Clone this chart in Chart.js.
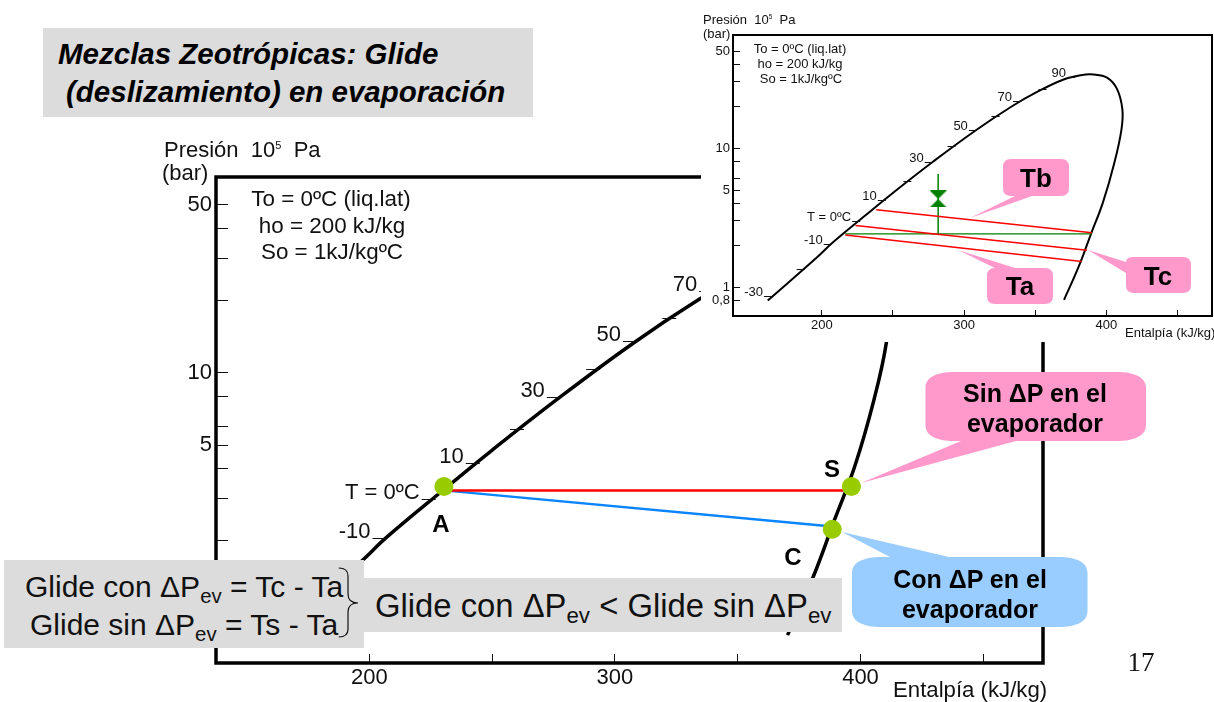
<!DOCTYPE html>
<html>
<head>
<meta charset="utf-8">
<script src="https://cdn.jsdelivr.net/npm/chart.js@4"></script>
<style>
  html, body { margin: 0; padding: 0; background: #fff; }
  body { width: 1214px; height: 702px; position: relative; overflow: hidden; font-family: "Liberation Sans", sans-serif; color: #111; }
  canvas { position: absolute; }
  .box { position: absolute; background: #dcdcdc; }
  .t { position: absolute; white-space: nowrap; transform: translate(-50%, -50%); }
  .l { position: absolute; white-space: nowrap; transform: translateY(-50%); }
  .b { font-weight: bold; color: #000; }
  sub { font-size: 68%; vertical-align: -0.28em; line-height: 0; }
  sup { font-size: 50%; vertical-align: 0.75em; line-height: 0; }
  svg { position: absolute; left: 0; top: 0; }
</style>
</head>
<body>
<canvas id="main" width="1214" height="702" style="left:0;top:0"></canvas>

<!-- text on the big diagram -->
<div class="l" style="left:164px;top:150px;font-size:22px">Presión&nbsp; 10<sup>5</sup>&nbsp; Pa</div>
<div class="l" style="left:162px;top:173px;font-size:22px">(bar)</div>
<div class="t" style="left:331px;top:199px;font-size:22.4px">To = 0ºC (liq.lat)</div>
<div class="t" style="left:332px;top:226px;font-size:22.4px">ho = 200 kJ/kg</div>
<div class="t" style="left:332px;top:252px;font-size:22.4px">So = 1kJ/kgºC</div>
<div class="l" style="left:893px;top:690px;font-size:22.2px">Entalpía (kJ/kg)</div>
<div class="t b" style="left:441px;top:524px;font-size:24px">A</div>
<div class="t b" style="left:832px;top:469px;font-size:24px">S</div>
<div class="t b" style="left:793px;top:557px;font-size:24px">C</div>
<div class="t" style="left:1141px;top:662px;font-size:27px;font-family:'Liberation Serif',serif">17</div>

<!-- grey boxes -->
<div class="box" style="left:43px;top:28px;width:490px;height:89px"></div>
<div class="l b" style="left:58px;top:54px;font-size:29.5px;font-style:italic">Mezclas Zeotrópicas: Glide</div>
<div class="l b" style="left:66px;top:92px;font-size:29.5px;font-style:italic">(deslizamiento) en evaporación</div>
<div class="box" style="left:363px;top:578px;width:479px;height:54px"></div>
<div class="box" style="left:4px;top:560px;width:360px;height:88px"></div>
<div class="l" style="left:25px;top:587px;font-size:30px">Glide con ΔP<sub>ev</sub> = Tc - Ta</div>
<div class="l" style="left:30px;top:625px;font-size:30px">Glide sin ΔP<sub>ev</sub> = Ts - Ta</div>
<div class="l" style="left:375px;top:606px;font-size:32.8px">Glide con ΔP<sub>ev</sub> &lt; Glide sin ΔP<sub>ev</sub></div>

<canvas id="inset" width="513" height="342" style="left:701px;top:0;background:#fff"></canvas>

<!-- text on the small diagram -->
<div class="l" style="left:703px;top:19px;font-size:13px">Presión&nbsp; 10<sup>5</sup>&nbsp; Pa</div>
<div class="l" style="left:703px;top:33px;font-size:13px">(bar)</div>
<div class="t" style="left:800px;top:48px;font-size:13px">To = 0ºC (liq.lat)</div>
<div class="t" style="left:800px;top:63px;font-size:13px">ho = 200 kJ/kg</div>
<div class="t" style="left:801px;top:78px;font-size:13px">So = 1kJ/kgºC</div>
<div class="l" style="left:1125px;top:332px;font-size:13px">Entalpía (kJ/kg)</div>

<!-- callouts and the brace -->
<svg width="1214" height="702">
  <path d="M338.7 568 Q348 568 348 576 L348 594 Q348 603 358 603 Q348 603 348 612 L348 629 Q348 637 338.7 637" fill="none" stroke="#111" stroke-width="1.2"/>
  <path d="M955 372 H1116 C1136 372 1146 378 1146 388 V425 C1146 435 1136 441 1116 441 H1016 L861 483 L961 441 H955 C935 441 925.5 435 925.5 425 V388 C925.5 378 935 372 955 372 Z" fill="#ff99cc"/>
  <path d="M882 557 H890 L842 532 L949 557 H1058 C1078 557 1087.5 563 1087.5 573 V611 C1087.5 621 1078 627 1058 627 H882 C862 627 852 621 852 611 V573 C852 563 862 557 882 557 Z" fill="#99ccff"/>
  <path d="M1011 159 H1061 Q1069 159 1069 167 V188 Q1069 196 1061 196 H1032 L970 218 L1015 196 H1011 Q1003 196 1003 188 V167 Q1003 159 1011 159 Z" fill="#ff99cc"/>
  <path d="M995 268 L958 250 L1015 268 H1045 Q1053 268 1053 276 V296 Q1053 304 1045 304 H995 Q987 304 987 296 V276 Q987 268 995 268 Z" fill="#ff99cc"/>
  <path d="M1134 257 H1183 Q1191 257 1191 265 V285 Q1191 293 1183 293 H1134 Q1126 293 1126 285 V273 L1088 250 L1126 262 Q1126 257 1134 257 Z" fill="#ff99cc"/>
</svg>
<div class="t b" style="left:1035px;top:393px;font-size:25px">Sin ΔP en el</div>
<div class="t b" style="left:1035px;top:423px;font-size:25px">evaporador</div>
<div class="t b" style="left:970px;top:579px;font-size:25px">Con ΔP en el</div>
<div class="t b" style="left:970px;top:609px;font-size:25px">evaporador</div>
<div class="t b" style="left:1036px;top:178px;font-size:26px">Tb</div>
<div class="t b" style="left:1020px;top:286px;font-size:26px">Ta</div>
<div class="t b" style="left:1158px;top:276px;font-size:26px">Tc</div>

<script>
// axes
const xTicks = [200, 250, 300, 350, 400, 450];
const xLabels = [200, 300, 400];
const yTicks = [50, 40, 30, 20, 10, 8, 6, 5, 4, 3, 2, 1, 0.8];
const yLabels = [50, 10, 5, 1];

// saturation dome
const domeH = [162, 196.7, 206.9, 230.3, 250.2, 277.9, 307.6, 334, 351, 370, 382, 391, 400.5, 407.5, 411.3, 410.6, 405.5, 397.6, 389.4, 380.8, 370.3];
const domeP = [0.8, 1.64, 2.06, 3.26, 4.78, 7.95, 13.3, 20.1, 25.3, 31.2, 33.5, 33.9, 32.2, 26.7, 19, 13.5, 7.73, 4.06, 2.44, 1.42, 0.81];

// isotherm marks on the liquid line
const isoLabels = ['-30', '', '-10', 'T = 0ºC', '10', '', '30', '', '50', '', '70', '', '90'];
const isoH = [165, 188, 207, 227, 245, 263, 278, 294, 309, 325, 340, 358, 378];
const isoP = [0.87, 1.36, 2.06, 2.97, 4.22, 5.85, 7.95, 10.4, 13.5, 16.9, 21.8, 26.5, 32.5];

// big diagram: evaporation with and without pressure drop
const redH = [230.4, 393];
const redP = [3.24, 3.24];
const blueH = [230.4, 388.5];
const blueP = [3.24, 2.29];
const stateH = [230.4, 396.3, 388.5];
const stateP = [3.36, 3.36, 2.23];

// small diagram: Tb, Tc, Ta lines and expansion valve
const tbH = [238.3, 389.9];
const tbP = [3.6, 2.46];
const tcH = [223.7, 386.4];
const tcP = [2.78, 1.84];
const taH = [216.5, 382.8];
const taP = [2.37, 1.53];
const flatH = [216.5, 389.9];
const flatP = [2.42, 2.42];
const valveH = [281.8, 281.8];
const valveP = [2.42, 6.53];
const bowH = [281.8];
const bowP = [4.31];

const pts = (xs, ys) => xs.map((x, i) => ({ x: x, y: ys[i] }));
const line = (xs, ys, color, width, tension) => ({
  data: pts(xs, ys), showLine: true, borderColor: color, borderWidth: width,
  pointRadius: 0, tension: tension || 0,
});

// frame round the plot
const framePlugin = {
  id: 'frame',
  afterDraw(chart, args, opts) {
    const a = chart.chartArea, c = chart.ctx;
    c.save();
    c.strokeStyle = '#000';
    c.lineWidth = opts.width;
    c.strokeRect(a.left, a.top, a.right - a.left, a.bottom - a.top);
    c.restore();
  },
};

// small tick and label for each isotherm
const isoPlugin = {
  id: 'iso',
  afterDatasetsDraw(chart, args, opts) {
    const c = chart.ctx;
    c.save();
    c.strokeStyle = '#111';
    c.fillStyle = '#111';
    c.lineWidth = 1;
    c.font = opts.font;
    c.textAlign = 'right';
    c.textBaseline = 'middle';
    isoH.forEach((h, i) => {
      const x = chart.scales.x.getPixelForValue(h);
      const y = Math.round(chart.scales.y.getPixelForValue(isoP[i])) + 0.5;
      c.beginPath();
      c.moveTo(x - opts.len, y);
      c.lineTo(x, y);
      c.stroke();
      c.fillText(isoLabels[i], x - opts.len - opts.gap, y + opts.dy);
    });
    c.restore();
  },
};

// keep the plot box where the margins put it, whatever the labels measure
const noPad = s => {
  s.paddingTop = s.paddingBottom = s.paddingLeft = s.paddingRight = 0;
};

function makeChart(id, datasets, o) {
  return new Chart(document.getElementById(id), {
    type: 'scatter',
    data: { datasets: datasets },
    plugins: [framePlugin, isoPlugin],
    options: {
      responsive: false,
      animation: false,
      layout: { autoPadding: false, padding: { top: o.top, right: o.right, left: 0, bottom: 0 } },
      plugins: {
        legend: { display: false },
        tooltip: { enabled: false },
        frame: { width: o.frame },
        iso: o.iso,
      },
      scales: {
        x: {
          type: 'linear',
          min: 137.6,
          max: 474.3,
          afterBuildTicks: s => { s.ticks = xTicks.map(v => ({ value: v })); },
          afterFit: s => { s.height = o.bottom; noPad(s); },
          border: { display: false },
          grid: { drawOnChartArea: false, tickLength: -o.xTick, tickColor: '#111' },
          ticks: {
            autoSkip: false, maxRotation: 0, padding: o.xTick + o.xPad, color: '#111',
            font: { family: 'Liberation Sans', size: o.size },
            callback: v => (xLabels.includes(v) ? String(v) : ''),
          },
        },
        y: {
          type: 'logarithmic',
          // the default 'ticks' bounds would round min down to 0.6
          bounds: 'data',
          min: 0.62,
          max: 65.2,
          afterBuildTicks: s => { s.ticks = yTicks.map(v => ({ value: v })); },
          afterFit: s => { s.width = o.left; noPad(s); },
          border: { display: false },
          grid: { drawOnChartArea: false, tickLength: -o.yTick, tickColor: '#111' },
          ticks: {
            autoSkip: false, padding: o.yTick + o.yPad, color: '#111',
            font: { family: 'Liberation Sans', size: o.size },
            callback: v => (v === 0.8 ? '0,8' : yLabels.includes(v) ? String(v) : ''),
          },
        },
      },
    },
  });
}

// big diagram
makeChart('main', [
  { data: pts(stateH, stateP), backgroundColor: '#99cc00', pointRadius: 9.5, pointBorderWidth: 0 },
  line(redH, redP, '#ff0000', 2.5),
  line(blueH, blueP, '#0a84ff', 2.5),
  line(domeH, domeP, '#000', 3.5, 0.4),
], {
  left: 216, top: 177, right: 171, bottom: 39,
  frame: 3.5, size: 22, xTick: 9, yTick: 12, xPad: 2, yPad: 4,
  iso: { len: 14, gap: 2, dy: -7, font: '22px "Liberation Sans"' },
});

// valve symbol for the small diagram
const bow = document.createElement('canvas');
bow.width = 17;
bow.height = 17;
const bc = bow.getContext('2d');
bc.fillStyle = '#008000';
bc.beginPath();
bc.moveTo(0, 0); bc.lineTo(17, 0); bc.lineTo(0, 17); bc.lineTo(17, 17);
bc.closePath();
bc.fill();

// small diagram
makeChart('inset', [
  { data: pts(bowH, bowP), pointStyle: bow },
  line(tbH, tbP, '#ff0000', 1.5),
  line(tcH, tcP, '#ff0000', 1.5),
  line(taH, taP, '#ff0000', 1.5),
  line(flatH, flatP, '#008000', 1.2),
  line(valveH, valveP, '#008000', 1.5),
  line(domeH, domeP, '#000', 2, 0.4),
], {
  left: 32, top: 35, right: 2, bottom: 26,
  frame: 2, size: 13, xTick: 6, yTick: 7, xPad: 2, yPad: 3,
  iso: { len: 8, gap: 1, dy: -4, font: '13px "Liberation Sans"' },
});
</script>
</body>
</html>
